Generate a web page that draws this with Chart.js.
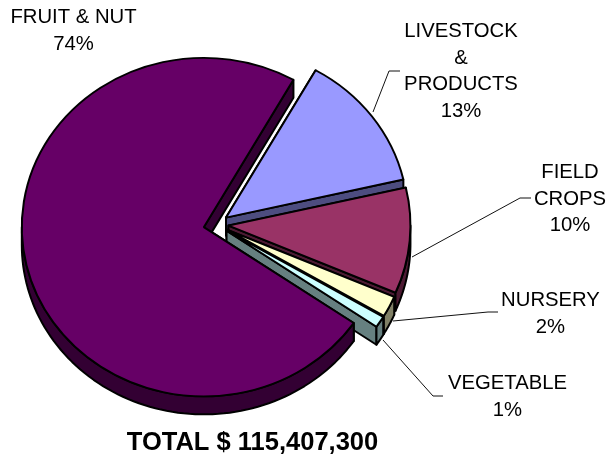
<!DOCTYPE html>
<html><head><meta charset="utf-8">
<style>html,body{margin:0;padding:0;background:#fff}#w{position:relative;width:613px;height:456px}</style>
<script src="https://cdn.jsdelivr.net/npm/chart.js@4/dist/chart.umd.min.js"></script>
</head><body><div id="w"><canvas id="c" width="613" height="456"></canvas></div>
<script>
const categories = ['LIVESTOCK\n&\nPRODUCTS', 'FIELD\nCROPS', 'NURSERY', 'VEGETABLE', 'FRUIT & NUT'];
const shares = [13.2, 10.1, 2.0, 1.1, 73.6];
const topColors = ['#9999FF', '#993366', '#FFFFCC', '#CCFFFF', '#660066'];
const sideColors = ['#4D4D80', '#4D1A33', '#808066', '#668080', '#330033'];
const totalLabel = 'TOTAL $ 115,407,300';

// label placement: centre x, first baseline y, leader polyline
const labelBoxes = [
  {x: 461, y: 37, leader: [[373,112],[389,71],[400,71]]},
  {x: 570, y: 178, leader: [[412,257],[520,198],[531,198]]},
  {x: 550.5, y: 306, leader: [[393,321],[488,312],[498,312]]},
  {x: 507.5, y: 389, leader: [[383,340],[433,396],[443,396]]},
  {x: 73.5, y: 23, leader: null}
];
const SQUASH = 0.93, DEPTH = 18, LINE = 26.7, EXPLODE = 12.5;

const pseudo3d = {
  id: 'pseudo3d',
  beforeDatasetsDraw(chart) {
    const ctx = chart.ctx, arcs = chart.getDatasetMeta(0).data;
    const cy = arcs[0].y;
    ctx.save();
    ctx.lineWidth = 2; ctx.lineJoin = 'round'; ctx.strokeStyle = '#000';
    const P = (a, r, ox, oy, d) => [ox + Math.cos(a) * r, cy + (oy - cy + Math.sin(a) * r) * SQUASH + d];
    arcs.forEach((arc, i) => {
      const mid = (arc.startAngle + arc.endAngle) / 2;
      const dx = Math.cos(mid) * EXPLODE, dy = Math.sin(mid) * EXPLODE;
      const ox = arc.x + dx, oy = arc.y + dy;
      const r = arc.outerRadius;
      ctx.fillStyle = sideColors[i];
      [arc.startAngle, arc.endAngle].forEach(a => {
        const p0 = P(0, 0, ox, oy, 0), p1 = P(a, r, ox, oy, 0);
        ctx.beginPath();
        ctx.moveTo(p0[0], p0[1]); ctx.lineTo(p1[0], p1[1]);
        ctx.lineTo(p1[0], p1[1] + DEPTH); ctx.lineTo(p0[0], p0[1] + DEPTH);
        ctx.closePath(); ctx.fill(); ctx.stroke();
      });
      // outer wall: only the part of the rim that faces the viewer
      const TAU = Math.PI * 2;
      for (let k = -1; k <= 1; k++) {
        const a0 = Math.max(arc.startAngle, k * TAU), a1 = Math.min(arc.endAngle, k * TAU + Math.PI);
        if (a1 <= a0) continue;
        ctx.beginPath();
        const n = 80;
        for (let j = 0; j <= n; j++) { const p = P(a0 + (a1 - a0) * j / n, r, ox, oy, 0); j ? ctx.lineTo(p[0], p[1]) : ctx.moveTo(p[0], p[1]); }
        for (let j = n; j >= 0; j--) { const p = P(a0 + (a1 - a0) * j / n, r, ox, oy, DEPTH); ctx.lineTo(p[0], p[1]); }
        ctx.closePath(); ctx.fill(); ctx.stroke();
      }
      // explode the slice the library is about to draw
      if (!arc.__exploded) {
        const draw = arc.draw.bind(arc);
        arc.draw = (c, area) => { c.save(); c.translate(dx, dy); draw(c, area); c.restore(); };
        arc.__exploded = true;
      }
    });
    ctx.restore();
    // squash the arcs the library is about to draw
    ctx.save();
    ctx.translate(0, cy); ctx.scale(1, SQUASH); ctx.translate(0, -cy);
  },
  afterDatasetsDraw(chart) {
    const ctx = chart.ctx;
    ctx.restore();
    ctx.save();
    ctx.fillStyle = '#000'; ctx.strokeStyle = '#111'; ctx.lineWidth = 1;
    ctx.textAlign = 'center'; ctx.textBaseline = 'alphabetic';
    ctx.font = '20.3px "Liberation Sans", Arial, sans-serif';
    categories.forEach((name, i) => {
      const b = labelBoxes[i];
      const lines = name.split('\n').concat(Math.round(shares[i]) + '%');
      lines.forEach((t, k) => ctx.fillText(t, b.x, b.y + k * LINE));
      if (b.leader) {
        ctx.beginPath();
        b.leader.forEach((p, k) => k ? ctx.lineTo(p[0], p[1]) : ctx.moveTo(p[0], p[1]));
        ctx.stroke();
      }
    });
    ctx.font = 'bold 25.5px "Liberation Sans", Arial, sans-serif';
    ctx.fillText(totalLabel, 252.5, 450);
    ctx.restore();
  }
};

new Chart(document.getElementById('c'), {
  type: 'pie',
  data: { labels: categories, datasets: [{
    data: shares, backgroundColor: topColors, borderColor: '#000', borderWidth: 2,
    borderAlign: 'center', offset: 0, hoverOffset: 0, clip: false
  }]},
  options: {
    responsive: false, animation: false, rotation: 29.5,
    layout: { padding: { left: 33, right: 214, top: 41, bottom: 48 } },
    plugins: { legend: { display: false }, tooltip: { enabled: false } }
  },
  plugins: [pseudo3d]
});
</script></body></html>
